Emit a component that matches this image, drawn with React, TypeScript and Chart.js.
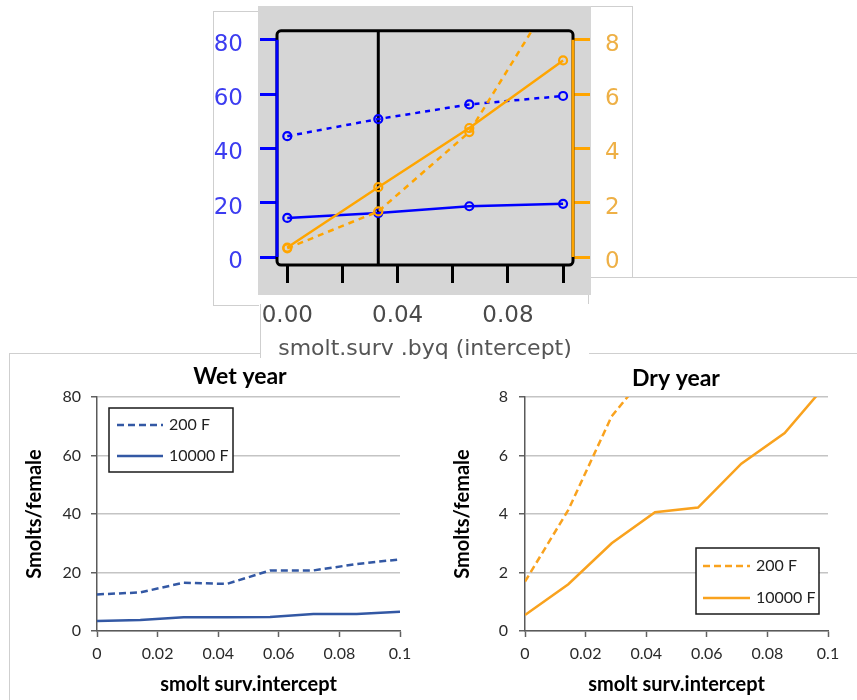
import React, { useEffect, useRef } from 'react';
import { Chart, registerables } from 'chart.js';

Chart.register(...registerables);

// ---------- Top panel (R plot) data ----------
const topX = [0, 0.033, 0.066, 0.1];
const topBlue200 = [44.5, 50.8, 56.2, 59.3];
const topBlue10000 = [14.4, 16.2, 18.7, 19.6];
const topOrange200 = [0.32, 1.68, 4.6, 10.2];
const topOrange10000 = [0.35, 2.57, 4.75, 7.24];
const topXTicks = [0, 0.02, 0.04, 0.06, 0.08, 0.1];
const topXTickLabels = ['0.00', '', '0.04', '', '0.08', ''];
const topLeftTicks = [0, 20, 40, 60, 80];
const topRightTicks = [0, 2, 4, 6, 8];
const topMarkerX = 0.033;
const topXTitle = 'smolt.surv .byq (intercept)';

// ---------- Bottom panels data ----------
const survX = [0, 0.0143, 0.0286, 0.0429, 0.0571, 0.0714, 0.0857, 0.1];
const wet200 = [12.5, 13.2, 16.5, 16.1, 20.7, 20.7, 22.9, 24.5];
const wet10000 = [3.4, 3.8, 4.7, 4.7, 4.8, 5.8, 5.8, 6.6];
const dry200X = [0, 0.0143, 0.0286, 0.0429];
const dry200 = [1.69, 4.14, 7.34, 9.15];
const dry10000 = [0.55, 1.6, 3.0, 4.06, 4.22, 5.72, 6.77, 8.5];
const bottomXTicks = [0, 0.02, 0.04, 0.06, 0.08, 0.1];
const bottomXLabels = ['0', '0.02', '0.04', '0.06', '0.08', '0.1'];
const wetYTicks = [0, 20, 40, 60, 80];
const dryYTicks = [0, 2, 4, 6, 8];
const seriesNames = ['200 F', '10000 F'];
const wetTitle = 'Wet year';
const dryTitle = 'Dry year';
const bottomXTitle = 'smolt surv.intercept';
const bottomYTitle = 'Smolts/female';

const FONT_TOP = '"DejaVu Sans", "Liberation Sans", Arial, sans-serif';
const FONT_BOT = 'Lato, "Open Sans", sans-serif';
const R_BLUE = '#0000ff';
const R_ORANGE = '#ffa500';
const WET_BLUE = '#3358a4';
const DRY_ORANGE = '#f9a21e';

const pts = (xs: number[], ys: number[]) => ys.map((y, i) => ({ x: xs[i], y }));
const setTicks = (vals: number[]) => (s: any) => {
  s.ticks = vals.map((v) => ({ value: v }));
};

const rFramePlugin = {
  id: 'rFrame',
  beforeDatasetsDraw(chart: any) {
    const { ctx, chartArea, scales } = chart;
    const { left, top, right, bottom } = chartArea;
    ctx.save();
    ctx.strokeStyle = '#000';
    ctx.lineWidth = 3;
    const r = 4;
    ctx.beginPath();
    ctx.moveTo(left + r, top);
    ctx.lineTo(right - r, top);
    ctx.arcTo(right, top, right, top + r, r);
    ctx.lineTo(right, bottom - r);
    ctx.arcTo(right, bottom, right - r, bottom, r);
    ctx.lineTo(left + r, bottom);
    ctx.arcTo(left, bottom, left, bottom - r, r);
    ctx.lineTo(left, top + r);
    ctx.arcTo(left, top, left + r, top, r);
    ctx.closePath();
    ctx.stroke();
    const vx = scales.x.getPixelForValue(topMarkerX);
    ctx.beginPath();
    ctx.moveTo(vx, top);
    ctx.lineTo(vx, bottom);
    ctx.stroke();
    ctx.strokeStyle = R_BLUE;
    ctx.beginPath();
    ctx.moveTo(left, scales.yL.getPixelForValue(topLeftTicks[0]));
    ctx.lineTo(left, scales.yL.getPixelForValue(topLeftTicks[topLeftTicks.length - 1]));
    ctx.stroke();
    ctx.strokeStyle = R_ORANGE;
    ctx.beginPath();
    ctx.moveTo(right, scales.yR.getPixelForValue(topRightTicks[0]));
    ctx.lineTo(right, scales.yR.getPixelForValue(topRightTicks[topRightTicks.length - 1]));
    ctx.stroke();
    ctx.restore();
  },
};

const boxLegendPlugin = {
  id: 'boxLegend',
  afterDraw(chart: any, _args: any, opts: any) {
    if (!opts || !opts.box) return;
    const { ctx, chartArea } = chart;
    const b = opts.box;
    const x0 = chartArea.left + b.left;
    const y0 = chartArea.top + b.top;
    ctx.save();
    ctx.fillStyle = '#fff';
    ctx.fillRect(x0, y0, b.width, b.height);
    ctx.strokeStyle = '#1a1a1a';
    ctx.lineWidth = 1.5;
    ctx.strokeRect(x0, y0, b.width, b.height);
    ctx.font = `16px ${FONT_BOT}`;
    ctx.textBaseline = 'middle';
    ctx.textAlign = 'left';
    chart.data.datasets.forEach((ds: any, i: number) => {
      const y = y0 + b.rows[i];
      ctx.strokeStyle = ds.borderColor;
      ctx.lineWidth = ds.borderWidth;
      ctx.setLineDash(ds.borderDash || []);
      ctx.beginPath();
      ctx.moveTo(x0 + b.lineX0, y);
      ctx.lineTo(x0 + b.lineX1, y);
      ctx.stroke();
      ctx.setLineDash([]);
      ctx.fillStyle = '#222';
      ctx.fillText(ds.label, x0 + b.textX, y);
    });
    ctx.restore();
  },
};

function topConfig(): any {
  const ptStyle = (c: string) => ({
    pointRadius: 4,
    pointBorderWidth: 2.2,
    pointBorderColor: c,
    pointBackgroundColor: 'rgba(0,0,0,0)',
  });
  return {
    type: 'line',
    data: {
      datasets: [
        { label: '10000 F dry', data: pts(topX, topOrange10000), yAxisID: 'yR', borderColor: R_ORANGE, borderWidth: 2.5, tension: 0, ...ptStyle(R_ORANGE) },
        { label: '200 F dry', data: pts(topX, topOrange200), yAxisID: 'yR', borderColor: R_ORANGE, borderWidth: 2.5, borderDash: [6, 5], tension: 0, ...ptStyle(R_ORANGE) },
        { label: '10000 F wet', data: pts(topX, topBlue10000), yAxisID: 'yL', borderColor: R_BLUE, borderWidth: 2.5, tension: 0, ...ptStyle(R_BLUE) },
        { label: '200 F wet', data: pts(topX, topBlue200), yAxisID: 'yL', borderColor: R_BLUE, borderWidth: 2.5, borderDash: [5, 5], tension: 0, ...ptStyle(R_BLUE) },
      ],
    },
    options: {
      responsive: false,
      animation: false,
      layout: { padding: { top: 30, left: 0, right: 0, bottom: 0 } },
      plugins: { legend: { display: false }, tooltip: { enabled: false }, title: { display: false } },
      scales: {
        x: {
          type: 'linear',
          position: 'bottom',
          min: -0.00373,
          max: 0.1036,
          afterBuildTicks: setTicks(topXTicks),
          afterFit: (s: any) => { s.height = 97; },
          grid: { drawOnChartArea: false, drawTicks: true, tickLength: 18, color: '#000', lineWidth: 3 },
          border: { display: false },
          ticks: {
            autoSkip: false,
            maxRotation: 0,
            padding: 19,
            color: '#4a4a4a',
            font: { family: FONT_TOP, size: 23 },
            callback: (_v: any, i: number) => topXTickLabels[i],
          },
          title: { display: true, text: topXTitle, color: '#555', font: { family: FONT_TOP, size: 22 }, padding: { top: 0, bottom: 0 } },
        },
        yL: {
          type: 'linear',
          position: 'left',
          min: -2.94,
          max: 83.3,
          afterBuildTicks: setTicks(topLeftTicks),
          afterFit: (s: any) => { s.width = 77; },
          grid: { drawOnChartArea: false, drawTicks: true, tickLength: 17, color: R_BLUE, lineWidth: 3 },
          border: { display: false },
          ticks: { padding: 17, labelOffset: 5, color: '#3c3cf0', font: { family: FONT_TOP, size: 23 }, callback: (v: any) => String(v) },
        },
        yR: {
          type: 'linear',
          position: 'right',
          min: -0.294,
          max: 8.33,
          afterBuildTicks: setTicks(topRightTicks),
          afterFit: (s: any) => { s.width = 57; },
          grid: { drawOnChartArea: false, drawTicks: true, tickLength: 17, color: R_ORANGE, lineWidth: 3 },
          border: { display: false },
          ticks: { padding: 15, labelOffset: 5, color: '#eeb046', font: { family: FONT_TOP, size: 23 }, callback: (v: any) => String(v) },
        },
      },
    },
    plugins: [rFramePlugin],
  };
}

function bottomConfig(opts: {
  title: string;
  color: string;
  d200: { x: number; y: number }[];
  d10000: { x: number; y: number }[];
  yMax: number;
  yTicks: number[];
  yWidth: number;
  yTitlePad: number;
  yTickPad: number;
  padWidth: number;
  titlePad: { top: number; bottom: number };
  box: any;
}): any {
  return {
    type: 'line',
    data: {
      datasets: [
        { label: seriesNames[0], data: opts.d200, borderColor: opts.color, borderWidth: 2.5, borderDash: [7, 4], pointRadius: 0, tension: 0 },
        { label: seriesNames[1], data: opts.d10000, borderColor: opts.color, borderWidth: 2.5, pointRadius: 0, tension: 0 },
      ],
    },
    options: {
      responsive: false,
      animation: false,
      layout: { padding: 0 },
      plugins: {
        legend: { display: false },
        tooltip: { enabled: false },
        title: { display: true, text: opts.title, color: '#000', font: { family: FONT_BOT, size: 23, weight: 'bold' }, padding: opts.titlePad },
        boxLegend: { box: opts.box },
      },
      scales: {
        x: {
          type: 'linear',
          min: 0,
          max: 0.1,
          afterBuildTicks: setTicks(bottomXTicks),
          afterFit: (s: any) => { s.height = 69; },
          grid: { drawOnChartArea: false, drawTicks: true, tickLength: 6, tickColor: '#606060', tickWidth: 1.5 },
          border: { color: '#5a5a5a', width: 1.5 },
          ticks: {
            autoSkip: false,
            maxRotation: 0,
            padding: 7,
            color: '#2a2a2a',
            font: { family: FONT_BOT, size: 16 },
            callback: (_v: any, i: number) => bottomXLabels[i],
          },
          title: { display: true, text: bottomXTitle, color: '#000', font: { family: FONT_BOT, size: 20, weight: 'bold' }, padding: { top: 0, bottom: 3 } },
        },
        y: {
          type: 'linear',
          position: 'left',
          min: 0,
          max: opts.yMax,
          afterBuildTicks: setTicks(opts.yTicks),
          afterFit: (s: any) => { s.width = opts.yWidth; },
          grid: { color: '#c4c4c4', lineWidth: 1.5, drawTicks: true, tickLength: 6, tickColor: '#606060', tickWidth: 1.5 },
          border: { color: '#5a5a5a', width: 1.5 },
          ticks: { padding: opts.yTickPad, color: '#2a2a2a', font: { family: FONT_BOT, size: 16 }, callback: (v: any) => String(v) },
          title: { display: true, text: bottomYTitle, color: '#000', font: { family: FONT_BOT, size: 20, weight: 'bold' }, padding: { top: opts.yTitlePad, bottom: 0 } },
        },
        pad: {
          type: 'linear',
          position: 'right',
          display: true,
          afterFit: (s: any) => { s.width = opts.padWidth; },
          grid: { display: false, drawTicks: false },
          border: { display: false },
          ticks: { display: false },
        },
      },
    },
    plugins: [boxLegendPlugin],
  };
}

function ChartCanvas({ make, left, top, width, height }: { make: () => any; left: number; top: number; width: number; height: number }) {
  const ref = useRef<HTMLCanvasElement>(null);
  useEffect(() => {
    const chart = new Chart(ref.current as HTMLCanvasElement, make());
    return () => chart.destroy();
  }, []);
  return (
    <canvas
      ref={ref}
      width={width}
      height={height}
      style={{ position: 'absolute', left, top, width, height, display: 'block' }}
    />
  );
}

const edge = '1px solid #cfcfcf';

export default function App() {
  return (
    <div style={{ position: 'absolute', left: 0, top: 0, width: 857, height: 700, overflow: 'hidden', background: '#fff' }}>
      {/* collage panels */}
      <div style={{ position: 'absolute', left: 9, top: 353, width: 900, height: 400, borderLeft: edge, borderTop: edge, background: '#fff' }} />
      <div style={{ position: 'absolute', left: 213, top: 11, width: 45, height: 293, borderLeft: edge, borderTop: edge, borderBottom: edge, background: '#fff' }} />
      <div style={{ position: 'absolute', left: 568, top: 6, width: 64, height: 271, borderTop: edge, borderRight: edge, background: '#fff' }} />
      <div style={{ position: 'absolute', left: 588, top: 277, width: 300, height: 75, borderLeft: edge, borderTop: edge, borderBottom: edge, background: '#fff' }} />
      <div style={{ position: 'absolute', left: 260, top: 304, width: 328, height: 54, borderLeft: edge, background: '#fff' }} />
      <div style={{ position: 'absolute', left: 258, top: 6, width: 333, height: 289, background: '#d6d6d6' }} />

      <ChartCanvas make={topConfig} left={200} top={0} width={430} height={362} />
      <ChartCanvas
        make={() =>
          bottomConfig({
            title: wetTitle,
            color: WET_BLUE,
            d200: pts(survX, wet200),
            d10000: pts(survX, wet10000),
            yMax: 80,
            yTicks: wetYTicks,
            yWidth: 87,
            yTitlePad: 13,
            yTickPad: 10,
            padWidth: 70,
            titlePad: { top: 7, bottom: 6.4 },
            box: { left: 12, top: 11, width: 124, height: 64, rows: [17, 48], lineX0: 8, lineX1: 54, textX: 60 },
          })
        }
        left={10}
        top={356}
        width={460}
        height={344}
      />
      <ChartCanvas
        make={() =>
          bottomConfig({
            title: dryTitle,
            color: DRY_ORANGE,
            d200: pts(dry200X, dry200),
            d10000: pts(survX, dry10000),
            yMax: 8,
            yTicks: dryYTicks,
            yWidth: 85,
            yTitlePad: 11,
            yTickPad: 11,
            padWidth: 84,
            titlePad: { top: 9, bottom: 4.4 },
            box: { left: 171, top: 151, width: 123, height: 66, rows: [18, 50], lineX0: 7, lineX1: 54, textX: 60 },
          })
        }
        left={440}
        top={356}
        width={472}
        height={344}
      />
    </div>
  );
}
